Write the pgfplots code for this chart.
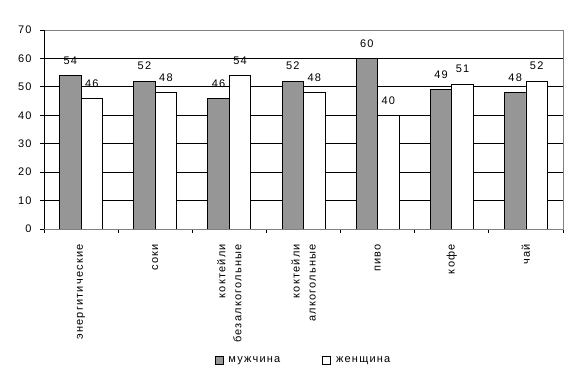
\documentclass[border=0pt]{standalone}
\usepackage{fontspec}
\setmainfont{Liberation Sans}
\newfontfamily\cff[LetterSpace=11]{Liberation Sans}
\usepackage{pgfplots}
\pgfplotsset{compat=1.18}
\definecolor{bargray}{RGB}{150,150,150}
\newcommand{\cf}{\fontsize{11bp}{16bp}\cff}
\begin{document}
\begin{tikzpicture}
\begin{axis}[name=ax, scale only axis, width=519bp, height=199bp,
  xmin=-0.5, xmax=6.5, ymin=0, ymax=70,
  /pgf/number format/assume math mode=true,
  xtick={0,...,6},
  xticklabels={энергитические, соки, {коктейли\\безалкогольные}, {коктейли\\алкогольные}, пиво, кофе, чай},
  tick label style={font=\cf},
  x tick label style={rotate=90, anchor=east, align=right, inner sep=0pt, font=\cf},
  xticklabel shift=11bp,
  yticklabel shift=5bp,
  ytick={0,10,...,70},
  extra y ticks={10,20,...,60}, extra y tick labels={},
  extra y tick style={grid=major, major tick length=0pt},
  grid style={black, line width=0.75bp},
  tick align=outside, xtick pos=bottom, ytick pos=left,
  major tick length=4bp, minor tick length=4bp,
  major x tick style={draw=none},
  minor xtick={-0.5,0.5,...,6.5},
  tick style={black, line width=0.75bp},
  axis line style={draw=gray, line width=0.75bp},
  ybar, bar width=0.29,
  nodes near coords,
  nodes near coords style={anchor=center, yshift=15bp, inner sep=0pt, font=\cf},
  legend style={at={(0.5,-0.658)}, anchor=center, draw=none, legend columns=2, font=\cf,
    /tikz/every odd column/.append style={column sep=3bp},
    /tikz/every even column/.append style={column sep=40bp}},
  legend image code/.code={\draw[#1, line width=0.75bp] (0bp,-4bp) rectangle (8bp,4bp);},
]
\addplot[fill=bargray, draw=black, line width=0.75bp, bar shift=-0.145] coordinates {(0,54) (1,52) (2,46) (3,52) (4,60) (5,49) (6,48)};
\addplot[fill=white, draw=black, line width=0.75bp, bar shift=0.145] coordinates {(0,46) (1,48) (2,54) (3,48) (4,40) (5,51) (6,52)};
\legend{мужчина, женщина}
\draw[black, line width=0.75bp] (rel axis cs:0,1) -- (rel axis cs:0,0) -- (rel axis cs:1,0);
\end{axis}
\pgfresetboundingbox
\path ([xshift=-44bp,yshift=-154bp]ax.south west) rectangle ([xshift=18bp,yshift=30bp]ax.north east);
\end{tikzpicture}
\end{document}
